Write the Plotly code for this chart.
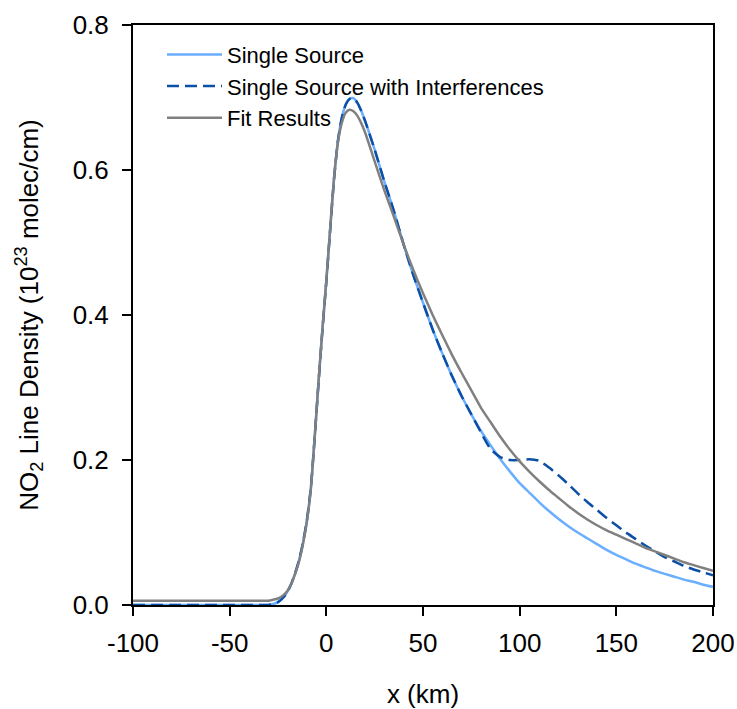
import plotly.graph_objects as go

# x positions (km)
x_km = [-100, -90, -80, -70, -60, -50, -40, -30, -28, -25, -22, -20, -18, -16, -14, -12,
        -10, -8, -6, -4, -2, 0, 2, 4, 6, 8, 10, 12, 14, 16, 18, 20, 25, 30, 35, 40, 45,
        50, 55, 60, 65, 70, 75, 80, 85, 90, 95, 100, 105, 110, 115, 120, 125, 130, 135,
        140, 145, 150, 155, 160, 165, 170, 175, 180, 185, 190, 195, 200]

single_source = [0.0, 0.0, 0.0, 0.0, 0.0, 0.0, 0.0, 0.0, 0.001, 0.004, 0.011, 0.019, 0.030,
                 0.045, 0.063, 0.087, 0.118, 0.162, 0.232, 0.308, 0.380, 0.446, 0.518, 0.588,
                 0.640, 0.672, 0.690, 0.698, 0.699, 0.693, 0.682, 0.668, 0.628, 0.584, 0.543,
                 0.497, 0.455, 0.417, 0.380, 0.347, 0.316, 0.288, 0.263, 0.240, 0.220, 0.201,
                 0.184, 0.168, 0.155, 0.142, 0.130, 0.119, 0.109, 0.100, 0.092, 0.084, 0.076,
                 0.069, 0.063, 0.057, 0.052, 0.047, 0.043, 0.039, 0.035, 0.032, 0.028, 0.025]

with_interferences = [0.0, 0.0, 0.0, 0.0, 0.0, 0.0, 0.0, 0.0, 0.001, 0.004, 0.011, 0.019, 0.030,
                      0.045, 0.063, 0.087, 0.118, 0.162, 0.232, 0.308, 0.380, 0.446, 0.518, 0.588,
                      0.640, 0.672, 0.690, 0.698, 0.699, 0.693, 0.682, 0.668, 0.628, 0.584, 0.543,
                      0.497, 0.455, 0.417, 0.380, 0.347, 0.316, 0.288, 0.263, 0.238, 0.215, 0.204,
                      0.200, 0.200, 0.201, 0.199, 0.190, 0.179, 0.167, 0.154, 0.142, 0.131, 0.120,
                      0.110, 0.100, 0.091, 0.082, 0.074, 0.066, 0.060, 0.054, 0.049, 0.045, 0.041]

fit_results = [0.006, 0.006, 0.006, 0.006, 0.006, 0.006, 0.006, 0.006, 0.007, 0.009, 0.014, 0.020,
               0.030, 0.044, 0.061, 0.085, 0.116, 0.160, 0.232, 0.310, 0.382, 0.448, 0.520, 0.590,
               0.638, 0.665, 0.679, 0.683, 0.681, 0.675, 0.665, 0.652, 0.612, 0.572, 0.535,
               0.497, 0.462, 0.430, 0.400, 0.372, 0.345, 0.320, 0.296, 0.272, 0.252, 0.232,
               0.214, 0.198, 0.184, 0.171, 0.159, 0.148, 0.137, 0.127, 0.118, 0.110, 0.103,
               0.097, 0.091, 0.085, 0.079, 0.074, 0.069, 0.064, 0.059, 0.055, 0.051, 0.047]

x_ticks = [-100, -50, 0, 50, 100, 150, 200]
y_ticks = [0.0, 0.2, 0.4, 0.6, 0.8]

FONT = "Liberation Sans, Arial, sans-serif"

fig = go.Figure()
fig.add_trace(go.Scatter(x=x_km, y=single_source, mode="lines", name="Single Source",
                         line=dict(color="#6aaeff", width=2.5, shape="spline", smoothing=0.6)))
fig.add_trace(go.Scatter(x=x_km, y=with_interferences, mode="lines",
                         name="Single Source with Interferences",
                         line=dict(color="#0b4fa6", width=2.5, dash="12px,6px",
                                   shape="spline", smoothing=0.6)))
fig.add_trace(go.Scatter(x=x_km, y=fit_results, mode="lines", name="Fit Results",
                         line=dict(color="#808080", width=2.5, shape="spline", smoothing=0.6)))

axis_common = dict(showline=True, linecolor="black", linewidth=2, mirror=True,
                   ticks="outside", ticklen=9, tickwidth=1.5, tickcolor="black",
                   showgrid=False, zeroline=False, automargin=False,
                   tickfont=dict(family=FONT, size=26, color="black"))

fig.update_xaxes(range=[-100, 200], tickvals=x_ticks,
                 ticktext=[str(v) for v in x_ticks],
                 title=dict(text="x (km)", font=dict(family=FONT, size=26, color="black"),
                            standoff=28),
                 ticklabelstandoff=5, **axis_common)
fig.update_yaxes(range=[0, 0.8], tickvals=y_ticks,
                 ticktext=[f"{v:.1f}" for v in y_ticks],
                 title=dict(text="NO<sub>2</sub> Line Density (10<sup>23</sup> molec/cm)",
                            font=dict(family=FONT, size=26, color="black"), standoff=27),
                 ticklabelstandoff=8, **axis_common)

fig.update_layout(
    width=737, height=709, autosize=False,
    margin=dict(l=133, r=24, t=25, b=104),
    plot_bgcolor="white", paper_bgcolor="white",
    showlegend=True,
    legend=dict(x=0.05, y=0.985, xanchor="left", yanchor="top",
                font=dict(family=FONT, size=22, color="black"),
                bgcolor="rgba(0,0,0,0)", itemwidth=55, tracegroupgap=0),
)

fig.write_html("out.html", config={"displayModeBar": False},
               post_script="document.body.style.margin='0px';document.body.style.overflow='hidden';")
